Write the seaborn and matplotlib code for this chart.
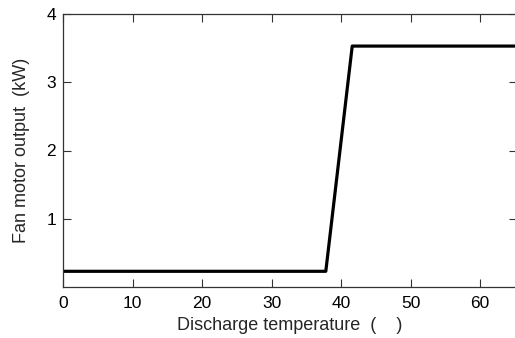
import matplotlib
matplotlib.use("Agg")
import matplotlib.pyplot as plt
import seaborn as sns
import pandas as pd

temperature = [0, 37.8, 41.6, 65]
fan_output = [0.23, 0.23, 3.53, 3.53]
x_ticks = [0, 10, 20, 30, 40, 50, 60]
y_ticks = [1, 2, 3, 4]

sns.set_style("ticks")
plt.rcParams['font.family'] = ['Liberation Sans', 'DejaVu Sans']

df = pd.DataFrame({"t": temperature, "p": fan_output})

fig = plt.figure(figsize=(5.15, 3.38), dpi=100)
ax = fig.add_axes([63/515, 1-287/338, (517-63)/515, (287-14)/338])
sns.lineplot(data=df, x="t", y="p", color="black", linewidth=2.3, ax=ax, sort=False)
ax.set_xlim(0, 65.3)
ax.set_ylim(0, 4)
ax.set_xticks(x_ticks)
ax.set_yticks(y_ticks)
ax.tick_params(direction="in", length=5.5, width=0.8, top=True, right=True,
               labelsize=12.5, colors="#333333", labelcolor="black")
ax.tick_params(axis="x", pad=6.5)
ax.tick_params(axis="y", pad=5)
for s in ax.spines.values():
    s.set_color("#333333")
    s.set_linewidth(0.9)
ax.set_xlabel("Discharge temperature  (    )", fontsize=13, labelpad=4)
ax.set_ylabel("Fan motor output  (kW)", fontsize=13, labelpad=12)
fig.savefig("out.png", dpi=100)
